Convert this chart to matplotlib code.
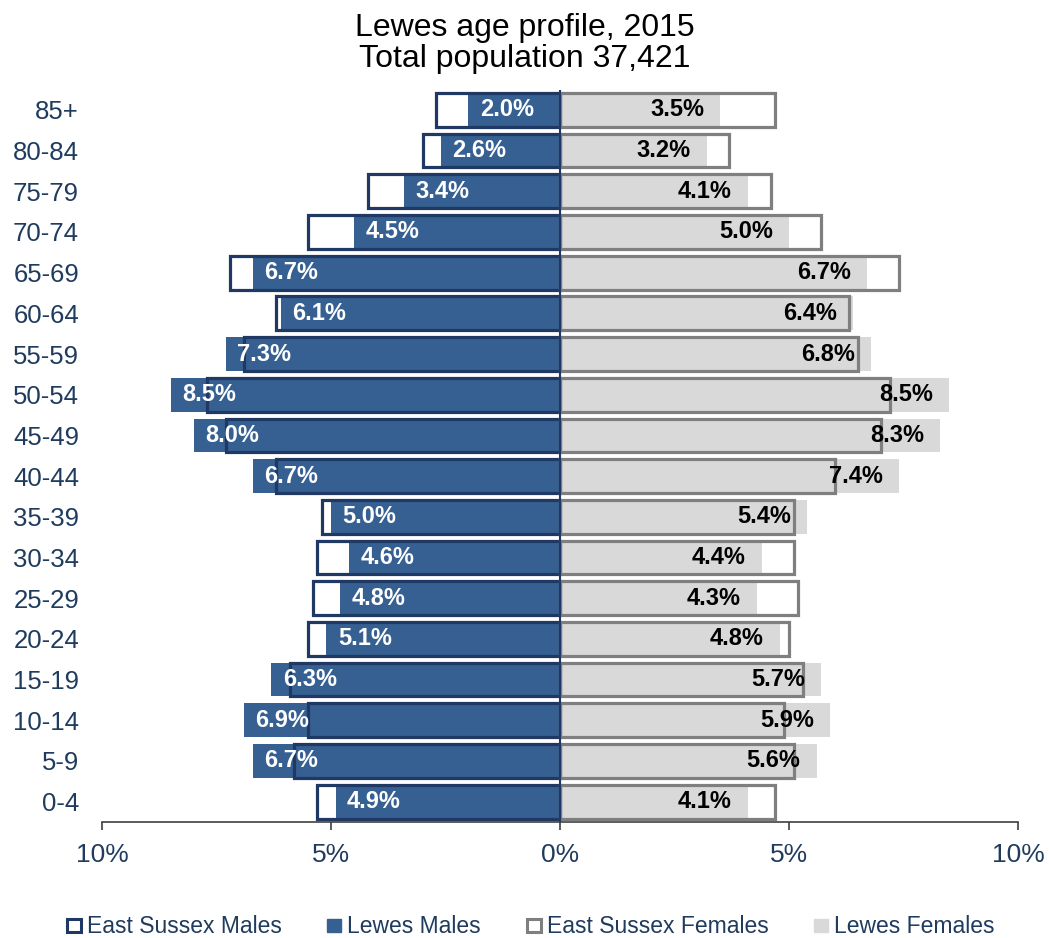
import numpy as np
import matplotlib
matplotlib.use("Agg")
import matplotlib.pyplot as plt
from matplotlib.patches import Patch

plt.rcParams['font.family'] = ['Liberation Sans', 'DejaVu Sans']

# age bands, bottom to top
ages = ["0-4", "5-9", "10-14", "15-19", "20-24", "25-29", "30-34", "35-39", "40-44",
        "45-49", "50-54", "55-59", "60-64", "65-69", "70-74", "75-79", "80-84", "85+"]

lewes_m = [4.9, 6.7, 6.9, 6.3, 5.1, 4.8, 4.6, 5.0, 6.7, 8.0, 8.5, 7.3, 6.1, 6.7, 4.5, 3.4, 2.6, 2.0]
lewes_f = [4.1, 5.6, 5.9, 5.7, 4.8, 4.3, 4.4, 5.4, 7.4, 8.3, 8.5, 6.8, 6.4, 6.7, 5.0, 4.1, 3.2, 3.5]
esx_m = [5.3, 5.8, 5.5, 5.9, 5.5, 5.4, 5.3, 5.2, 6.2, 7.3, 7.7, 6.9, 6.2, 7.2, 5.5, 4.2, 3.0, 2.7]
esx_f = [4.7, 5.1, 4.9, 5.3, 5.0, 5.2, 5.1, 5.1, 6.0, 7.0, 7.2, 6.5, 6.3, 7.4, 5.7, 4.6, 3.7, 4.7]

xticks = [-10, -5, 0, 5, 10]
xtick_labels = ["10%", "5%", "0%", "5%", "10%"]

navy = "#1F3864"
blue = "#366092"
light = "#D9D9D9"
grey = "#7F7F7F"
txt = "#1F3B5E"

fig = plt.figure(figsize=(10.49, 9.38), dpi=100)
ax = fig.add_axes([0.0972, 0.1237, 0.8733, 0.7808])

y = np.arange(len(ages))
h = 0.83

ax.barh(y, -np.array(lewes_m), height=h, color=blue, zorder=2)
ax.barh(y, lewes_f, height=h, color=light, zorder=2)
ax.barh(y, -np.array(esx_m), height=h, facecolor="none", edgecolor=navy, linewidth=2.3, zorder=3)
ax.barh(y, esx_f, height=h, facecolor="none", edgecolor=grey, linewidth=2.3, zorder=3)

for i in range(len(ages)):
    ax.text(-lewes_m[i] + 0.25, y[i], "%.1f%%" % lewes_m[i], ha="left", va="center",
            color="white", fontsize=17, fontweight="bold", zorder=4)
    ax.text(lewes_f[i] - 0.35, y[i], "%.1f%%" % lewes_f[i], ha="right", va="center",
            color="black", fontsize=17, fontweight="bold", zorder=4)

ax.axvline(0, color=navy, linewidth=1.5, zorder=5)

ax.set_xlim(-10, 10)
ax.set_ylim(-0.5, len(ages) - 0.5)
ax.set_xticks(xticks)
ax.set_xticklabels(xtick_labels)
ax.set_yticks(y)
ax.set_yticklabels(ages)

for s in ["top", "right", "left"]:
    ax.spines[s].set_visible(False)
ax.spines["bottom"].set_color("#404040")
ax.spines["bottom"].set_linewidth(1.2)
ax.tick_params(axis="x", direction="out", length=6, width=1.2, color="#404040",
               labelsize=19, labelcolor=txt, pad=9)
ax.tick_params(axis="y", length=0, labelsize=18.5, labelcolor=txt, pad=16.5)

fig.text(0.5, 0.986, "Lewes age profile, 2015\nTotal population 37,421", ha="center", va="top",
         fontsize=23, color="black", linespacing=1.03)

handles = [
    Patch(facecolor="white", edgecolor=navy, linewidth=2.2),
    Patch(facecolor=blue, edgecolor=blue),
    Patch(facecolor="white", edgecolor=grey, linewidth=2.2),
    Patch(facecolor=light, edgecolor=light),
]
labels = ["East Sussex Males", "Lewes Males", "East Sussex Females", "Lewes Females"]
leg = fig.legend(handles, labels, loc="center", bbox_to_anchor=(0.506, 0.012), ncol=4,
                 frameon=False, fontsize=16.5, handlelength=0.6, handleheight=0.5,
                 handletextpad=0.27, columnspacing=2.0, borderpad=0, borderaxespad=0)
for t in leg.get_texts():
    t.set_color(txt)

fig.savefig("out.png", dpi=100)
